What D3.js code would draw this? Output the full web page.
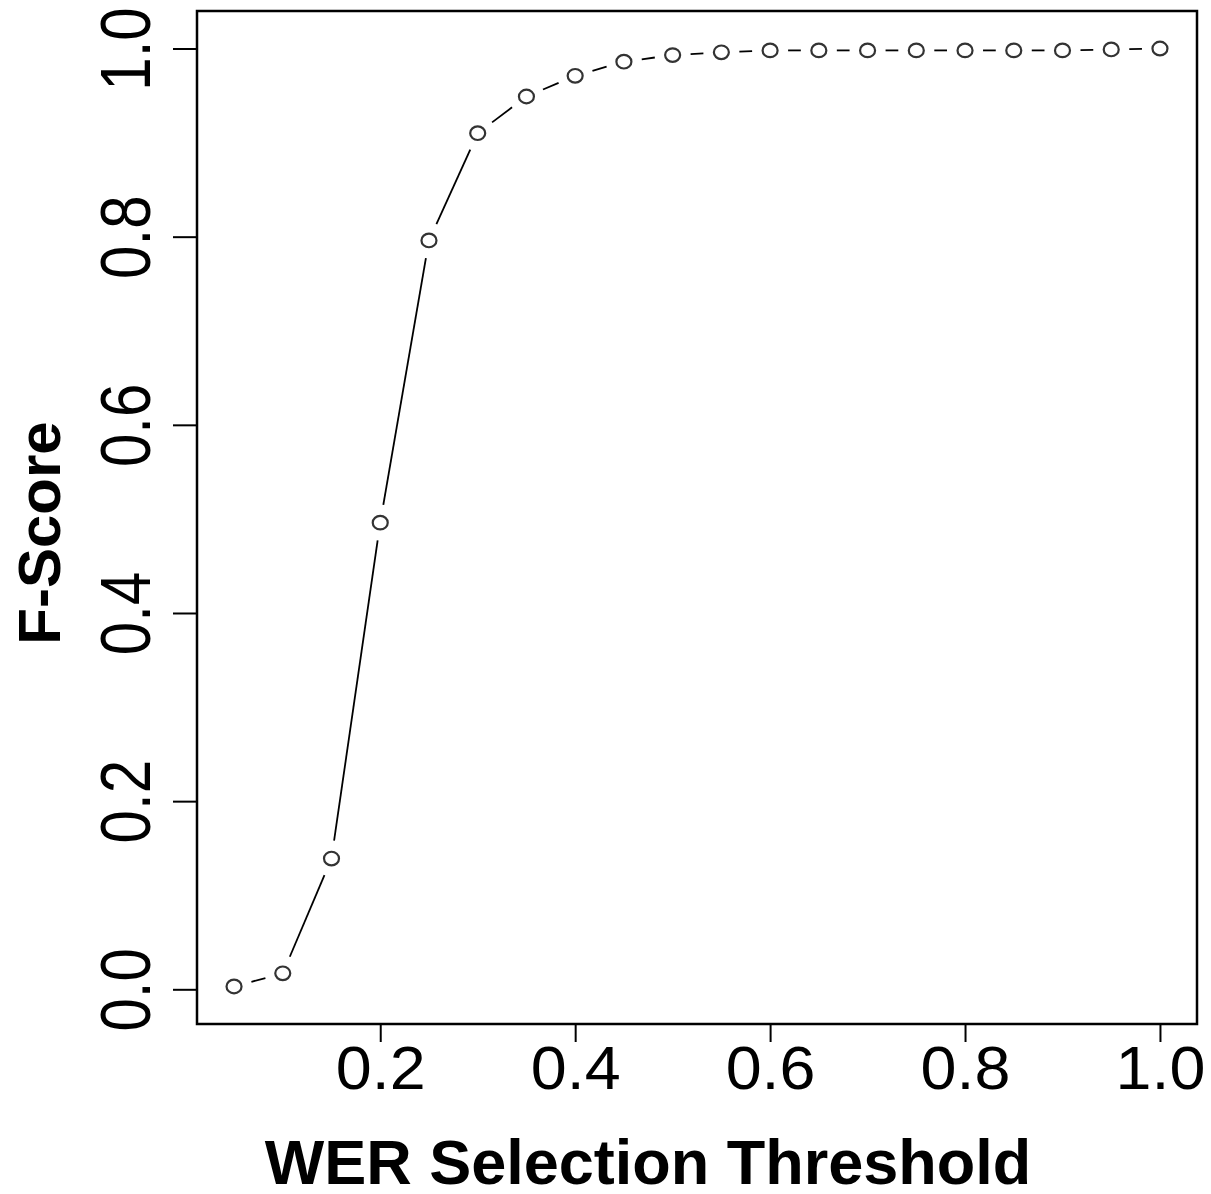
<!DOCTYPE html>
<html>
<head>
<meta charset="utf-8">
<script src="https://cdn.jsdelivr.net/npm/d3@7"></script>
<style>
  body { margin: 0; background: #fff; }
  svg text { font-family: "Liberation Sans", Arial, Helvetica, sans-serif; fill: #000; }
</style>
</head>
<body>
<svg id="chart"></svg>
<script>
// data
const thresholds = [0.05, 0.10, 0.15, 0.20, 0.25, 0.30, 0.35, 0.40, 0.45, 0.50,
                    0.55, 0.60, 0.65, 0.70, 0.75, 0.80, 0.85, 0.90, 0.95, 1.00]
const fScores = [0.003, 0.017, 0.139, 0.496, 0.796, 0.910, 0.949, 0.971, 0.986, 0.993,
                 0.996, 0.998, 0.998, 0.998, 0.998, 0.998, 0.998, 0.998, 0.999, 1.000]
const xTicks = [0.2, 0.4, 0.6, 0.8, 1.0]
const yTicks = [0.0, 0.2, 0.4, 0.6, 0.8, 1.0]
const xTitle = "WER Selection Threshold"
const yTitle = "F-Score"

let width = 1211
let height = 1194
let plotLeft = 197, plotRight = 1197, plotTop = 11, plotBottom = 1024

let svg = d3.select("#chart")
svg.attr("width", width).attr("height", height)

// R style 4% padding of the data range
let pad = (ext) => {
    let d = (ext[1] - ext[0]) * 0.04
    return [ext[0] - d, ext[1] + d]
}

let xScale = d3.scaleLinear()
    .domain(pad(d3.extent(thresholds)))
    .range([plotLeft, plotRight])

let yScale = d3.scaleLinear()
    .domain(pad(d3.extent(fScores)))
    .range([plotBottom, plotTop])

let points = thresholds.map((t, i) => [xScale(t), yScale(fScores[i])])

// lines between points, with a gap around each point (type = "b")
let gap = 18
let segs = []
for (let i = 0; i < points.length - 1; i++) {
    let [x0, y0] = points[i]
    let [x1, y1] = points[i + 1]
    let len = Math.hypot(x1 - x0, y1 - y0)
    if (len <= 2 * gap) continue
    let ux = (x1 - x0) / len, uy = (y1 - y0) / len
    segs.push([x0 + ux * gap, y0 + uy * gap, x1 - ux * gap, y1 - uy * gap])
}

svg.append("g")
    .selectAll("line")
    .data(segs)
    .enter()
    .append("line")
    .attr("x1", d => d[0])
    .attr("y1", d => d[1])
    .attr("x2", d => d[2])
    .attr("y2", d => d[3])
    .attr("stroke", "#000")
    .attr("stroke-width", 1.8)

svg.append("g")
    .selectAll("ellipse")
    .data(points)
    .enter()
    .append("ellipse")
    .attr("cx", d => d[0])
    .attr("cy", d => d[1])
    .attr("rx", 7.5)
    .attr("ry", 6.8)
    .attr("fill", "none")
    .attr("stroke", "#333")
    .attr("stroke-width", 2.2)

// axes
let xAxis = d3.axisBottom(xScale).tickValues(xTicks).tickSize(18).tickFormat(d3.format(".1f"))
let yAxis = d3.axisLeft(yScale).tickValues(yTicks).tickSize(24).tickFormat(d3.format(".1f"))

let gx = svg.append("g")
    .attr("transform", "translate(0," + plotBottom + ")")
    .call(xAxis)
gx.select(".domain").remove()
gx.selectAll(".tick line").attr("stroke", "#000").attr("stroke-width", 2)
gx.selectAll(".tick text")
    .attr("y", 0)
    .attr("dy", null)
    .attr("transform", "translate(0,65) scale(1.06,1)")
    .style("font-size", "61px")

let gy = svg.append("g")
    .attr("transform", "translate(" + plotLeft + ",0)")
    .call(yAxis)
gy.select(".domain").remove()
gy.selectAll(".tick line").attr("stroke", "#000").attr("stroke-width", 2)
gy.selectAll(".tick text")
    .attr("x", 0)
    .attr("dy", null)
    .attr("text-anchor", "middle")
    .attr("transform", "translate(-47,0) rotate(-90) scale(0.97,1.15)")
    .style("font-size", "62px")

// box
svg.append("rect")
    .attr("x", plotLeft)
    .attr("y", plotTop)
    .attr("width", plotRight - plotLeft)
    .attr("height", plotBottom - plotTop)
    .attr("fill", "none")
    .attr("stroke", "#000")
    .attr("stroke-width", 2.5)

// titles
svg.append("text")
    .attr("x", 648)
    .attr("y", 1184)
    .attr("text-anchor", "middle")
    .style("font-size", "63px")
    .style("font-weight", "bold")
    .text(xTitle)

svg.append("text")
    .attr("transform", "translate(60,533) rotate(-90)")
    .attr("text-anchor", "middle")
    .style("font-size", "60px")
    .style("font-weight", "bold")
    .text(yTitle)
</script>
</body>
</html>
